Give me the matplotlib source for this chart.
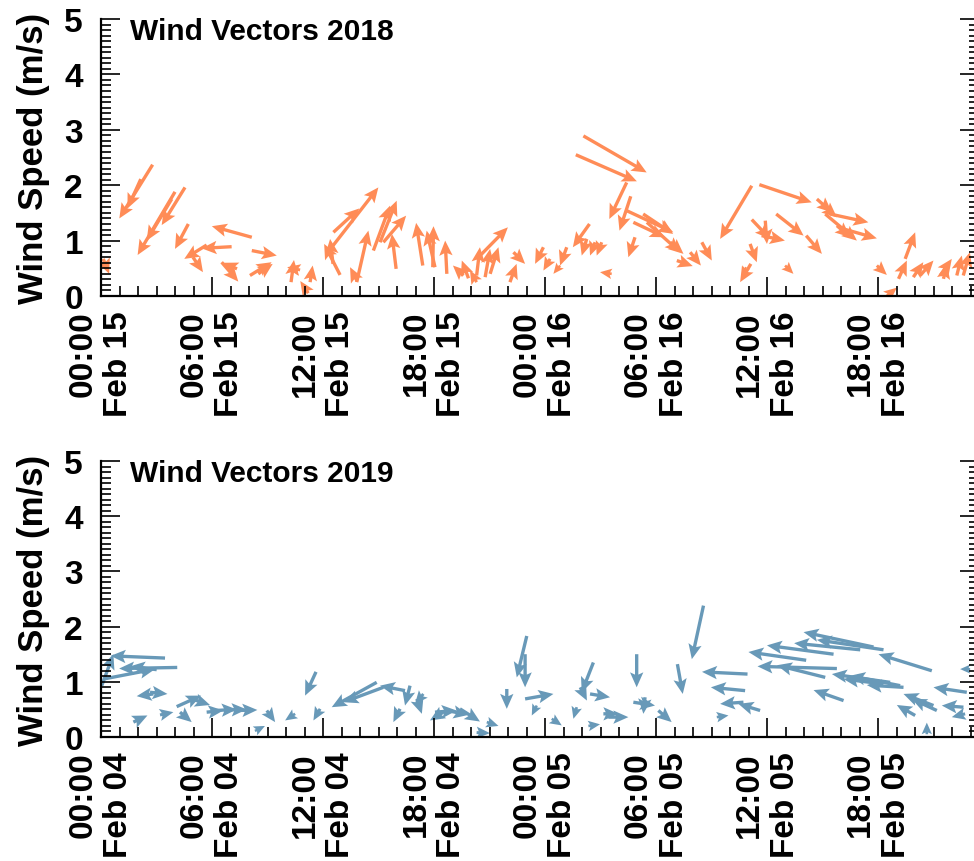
import matplotlib
matplotlib.use("Agg")
import matplotlib.pyplot as plt
import numpy as np

plt.rcParams['font.family'] = ['Liberation Sans', 'DejaVu Sans']
plt.rcParams['font.weight'] = 'bold'

# hours since 00:00 of the first day, wind speed (m/s), arrow components
t_2018 = [0.12, 2.15, 2.79, 3.82, 4.00, 4.54, 4.72, 4.97, 5.71, 6.52, 7.06, 7.35,
          8.05, 8.15, 8.15, 8.50, 10.27, 10.76, 11.20, 11.30, 12.47, 12.54, 12.56,
          12.92, 13.82, 13.84, 14.72, 15.08, 15.26, 15.95, 17.39, 17.93, 18.05,
          18.69, 19.59, 19.86, 20.30, 20.30, 20.49, 20.76, 21.03, 22.10, 22.29,
          23.91, 24.27, 24.81, 25.17, 25.66, 26.07, 26.25, 26.40, 26.70, 27.06,
          27.60, 28.41, 28.41, 28.63, 28.77, 28.86, 29.30, 29.50, 30.76, 31.12,
          31.84, 32.47, 34.86, 35.08, 35.12, 35.17, 35.17, 35.58, 35.70, 35.90,
          36.49, 36.97, 38.11, 38.69, 39.05, 39.14, 39.40, 39.77, 40.13, 41.93,
          42.47, 43.10, 43.46, 43.90, 44.27, 45.35, 45.53, 46.25, 46.60]
ws_2018 = [0.67, 2.11, 2.37, 1.75, 1.88, 1.96, 1.30, 0.70, 0.92, 0.61, 0.89, 0.49,
           0.37, 1.06, 0.82, 0.40, 0.25, 0.47, 0.05, 0.25, 0.88, 0.58, 1.15,
           0.38, 0.25, 0.27, 0.82, 0.97, 0.97, 0.49, 0.55, 0.52, 0.52,
           0.40, 0.37, 0.32, 0.25, 0.37, 0.73, 0.34, 0.40, 0.25, 0.79,
           0.88, 0.67, 0.55, 0.88, 2.55, 2.89, 1.03, 1.30, 0.97, 0.97,
           0.40, 2.05, 1.54, 1.80, 1.33, 1.06, 1.48, 1.33, 0.97, 0.64,
           0.79, 0.97, 0.52, 0.94, 0.58, 1.99, 1.38, 2.01, 1.09, 1.36,
           1.48, 0.55, 1.09, 1.75, 1.63, 1.48, 1.48, 1.27, 1.21, 0.55,
           0.00, 0.31, 0.67, 0.34, 0.37, 0.37, 0.31, 0.37, 0.37]
u_2018 = [0.32, -0.72, -1.80, -1.35, -2.02, -1.26, -0.72, 0.54, -1.21, 0.90, -1.62, -0.76,
          1.17, -2.16, 1.35, 0.78, 0.16, -0.70, -0.43, 0.14, 2.52, -0.16, 1.40,
          -0.86, 0.63, -0.38, 0.90, 0.90, 1.23, -0.23, -0.36, 0.04, -0.45,
          -0.09, -0.57, -0.36, -0.36, 0.18, 1.50, 0.27, 0.45, 0.36, 0.63,
          -0.45, -0.36, -0.36, -0.36, 3.30, 3.42, -0.27, -0.90, -0.27, -0.27,
          -0.63, -0.94, 2.52, -0.61, 1.71, -0.36, 1.62, 1.80, 0.72, 0.86,
          0.58, 0.54, -0.23, 0.36, -0.58, -1.71, 0.99, 2.83, 1.26, 0.09,
          1.48, 0.45, 0.85, 0.81, 0.72, 1.71, 2.07, 0.72, 1.80, 0.54,
          0.54, 0.45, 0.54, 0.54, 0.72, 0.63, 0.18, 0.27, 0.36]
v_2018 = [-0.27, -0.53, -0.97, -0.75, -1.14, -0.68, -0.45, -0.27, -0.25, -0.35, -0.03, 0.11,
          0.24, 0.20, -0.09, 0.18, 0.40, 0.05, 0.22, 0.30, 1.08, 0.45, 0.43,
          0.56, 0.93, 0.25, 0.81, 0.75, 0.48, 0.63, 0.77, 0.74, 0.66,
          0.60, 0.18, 0.32, 0.21, 0.51, 0.51, 0.51, 0.48, 0.33, -0.21,
          -0.30, -0.21, -0.15, -0.33, -0.48, -0.66, -0.30, -0.42, -0.24, -0.24,
          0.03, -0.66, -0.39, -0.62, -0.27, -0.36, -0.36, -0.54, -0.21, -0.10,
          -0.24, -0.33, -0.15, -0.33, -0.33, -0.96, -0.35, -0.32, -0.09, -0.42,
          -0.39, -0.15, -0.33, -0.24, -0.21, -0.48, -0.15, -0.21, -0.17, -0.17,
          0.15, 0.33, 0.48, 0.27, 0.27, 0.30, 0.27, 0.36, 0.42]

t_2019 = [0.04, 0.13, 1.75, 2.65, 2.83, 3.01, 3.19, 3.46, 4.09, 4.12, 4.27, 4.90,
          5.71, 6.16, 6.79, 7.33, 8.32, 8.96, 10.49, 11.62, 11.84, 14.90, 15.26,
          16.16, 16.43, 16.70, 17.07, 17.42, 18.05, 18.50, 18.69, 19.40, 20.30,
          20.85, 21.93, 22.92, 22.92, 23.01, 23.55, 24.36, 25.71, 25.90, 26.34,
          26.43, 26.61, 27.15, 27.42, 28.77, 28.95, 29.40, 30.12, 31.15, 32.56,
          33.28, 34.72, 34.81, 34.94, 35.62, 38.11, 39.14, 39.59, 39.77, 40.13,
          41.03, 41.75, 42.29, 42.29, 42.65, 43.19, 43.37, 44.00, 44.63, 44.90,
          44.99, 45.17, 46.61, 46.70, 46.79, 46.97]
ws_2019 = [0.93, 1.05, 0.27, 0.81, 0.78, 1.22, 0.40, 1.43, 0.55, 1.26, 0.45, 0.69,
           0.45, 0.48, 0.49, 0.48, 0.11, 0.48, 0.42, 1.18, 0.51, 0.99, 0.90,
           0.51, 0.84, 0.93, 0.69, 0.78, 0.45, 0.45, 0.48, 0.51, 0.08,
           0.27, 0.87, 1.50, 0.69, 1.83, 0.57, 0.33, 0.54, 0.90, 0.20,
           0.78, 1.35, 0.42, 0.36, 0.63, 1.50, 0.72, 0.48, 1.32, 2.38,
           0.36, 0.63, 0.84, 1.14, 0.48, 1.39, 1.08, 1.50, 1.24, 0.66,
           1.58, 1.63, 1.58, 0.96, 0.99, 0.93, 0.90, 0.39, 0.05, 1.20,
           0.57, 0.48, 0.54, 0.42, 0.81, 1.23]
u_2019 = [0.63, 2.79, 0.76, 0.94, -0.90, -1.44, 0.72, -2.94, 1.32, -3.14, 0.63, 0.99,
          0.90, 1.17, 1.08, 1.12, 0.54, 0.45, -0.54, -0.59, -0.36, -2.43, -2.16,
          -0.36, -1.35, -0.27, 0.27, -0.45, 1.17, -0.72, 1.17, 1.08, 0.72,
          0.63, 0.00, 0.00, 1.53, -0.54, -0.27, 0.54, -0.18, 0.36, 0.63,
          1.08, -0.63, 0.81, 1.08, 1.17, 0.00, -0.09, 0.72, 0.29, -0.63,
          0.63, -1.26, -1.85, -2.46, -1.17, -3.12, -2.61, -3.60, -4.29, -1.62,
          -3.57, -3.78, -3.60, -2.16, -3.15, -2.70, -1.98, -0.99, 0.00, -2.88,
          -1.62, -1.35, -1.17, -0.72, -1.80, -0.54]
v_2019 = [0.57, 0.18, 0.12, -0.03, -0.04, 0.06, 0.05, 0.04, 0.20, -0.02, -0.18, -0.11,
          0.03, 0.02, 0.01, 0.01, 0.09, -0.21, -0.12, -0.43, -0.21, -0.45, -0.27,
          -0.24, 0.09, -0.36, -0.27, -0.18, 0.03, -0.15, -0.08, -0.23, -0.01,
          -0.07, -0.36, -0.60, 0.09, -0.75, -0.18, -0.12, -0.21, -0.24, 0.03,
          -0.06, -0.54, 0.00, 0.00, -0.06, -0.60, -0.30, -0.21, -0.54, -0.97,
          0.03, -0.03, 0.06, 0.04, 0.12, 0.15, 0.22, 0.16, 0.04, 0.19,
          0.12, 0.27, 0.18, 0.09, 0.15, 0.18, 0.04, 0.19, 0.21, 0.30,
          0.21, 0.21, 0.03, -0.06, 0.09, 0.00]

tick_hours = [0, 6, 12, 18, 24, 30, 36, 42]
labels_2018 = ["00:00\nFeb 15", "06:00\nFeb 15", "12:00\nFeb 15", "18:00\nFeb 15",
               "00:00\nFeb 16", "06:00\nFeb 16", "12:00\nFeb 16", "18:00\nFeb 16"]
labels_2019 = ["00:00\nFeb 04", "06:00\nFeb 04", "12:00\nFeb 04", "18:00\nFeb 04",
               "00:00\nFeb 05", "06:00\nFeb 05", "12:00\nFeb 05", "18:00\nFeb 05"]


def draw_panel(ax, t, ws, u, v, color, title, labels):
    ax.quiver(t, ws, u, v, angles='xy', scale_units='xy', scale=1,
              color=color, width=0.0038, headwidth=4.0, headlength=4.5,
              headaxislength=3.8, pivot='tail')
    ax.set_xlim(0, 47.45)
    ax.set_ylim(0, 5)
    ax.spines['top'].set_visible(False)
    ax.spines['right'].set_visible(False)
    ax.spines['left'].set_linewidth(1.6)
    ax.spines['bottom'].set_linewidth(1.6)

    ax.set_xticks(tick_hours)
    ax.set_xticks(np.arange(0, 48, 1), minor=True)
    ax.set_xticklabels(labels, rotation=90, fontsize=24, fontweight='bold',
                       ha='center', va='top', multialignment='right')
    ax.set_yticks(range(6))
    ax.set_yticks(np.arange(0, 5.01, 0.1), minor=True)
    ax.set_yticklabels([str(i) for i in range(6)], fontsize=24, fontweight='bold')
    ax.tick_params(axis='both', which='major', direction='in', length=14, width=1.2)
    ax.tick_params(axis='both', which='minor', direction='in', length=7, width=1.2)
    ax.tick_params(axis='y', which='both', right=True, pad=13)
    ax.tick_params(axis='x', which='major', pad=10)
    ax.set_ylabel("Wind Speed (m/s)", fontsize=25, fontweight='bold', labelpad=10)
    ax.text(0.033, 0.928, title, transform=ax.transAxes, fontsize=21.5,
            fontweight='bold', va='baseline', ha='left')


fig = plt.figure(figsize=(9.74, 8.62), dpi=100)
ax1 = fig.add_axes([101 / 974, 1 - 297 / 862, 878 / 974, 277 / 862])
ax2 = fig.add_axes([101 / 974, 1 - 738 / 862, 878 / 974, 276 / 862])

draw_panel(ax1, t_2018, ws_2018, u_2018, v_2018, '#FF8C57', "Wind Vectors 2018", labels_2018)
draw_panel(ax2, t_2019, ws_2019, u_2019, v_2019, '#6899B8', "Wind Vectors 2019", labels_2019)

fig.savefig("out.png", dpi=100)
